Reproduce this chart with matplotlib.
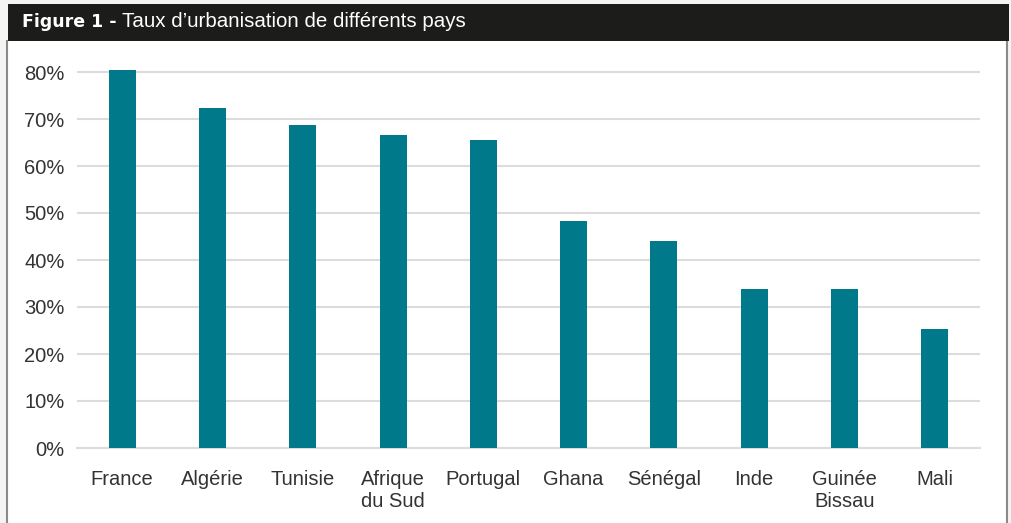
import matplotlib.pyplot as plt
from matplotlib.patches import Rectangle
from matplotlib.ticker import FuncFormatter

# Data
pays = ['France', 'Algérie', 'Tunisie', 'Afrique\ndu Sud', 'Portugal',
        'Ghana', 'Sénégal', 'Inde', 'Guinée\nBissau', 'Mali']
taux = [80.4, 72.3, 68.7, 66.6, 65.5, 48.3, 44.0, 33.8, 33.8, 25.3]
yticks = [0, 10, 20, 30, 40, 50, 60, 70, 80]

plt.rcParams['font.family'] = ['Liberation Sans', 'DejaVu Sans']

W, H = 1012, 523
fig = plt.figure(figsize=(W / 100, H / 100), dpi=100)
fig.patch.set_facecolor('#f4f4f2')

# White panel with grey side borders
fig.patches.append(Rectangle((8 / W, 0), 999 / W, 1 - 41 / H, transform=fig.transFigure,
                             facecolor='white', edgecolor='none', zorder=-5))
fig.add_artist(plt.Line2D([7.5 / W, 7.5 / W], [0, 1 - 41 / H], transform=fig.transFigure,
                          color='#8a8a8a', lw=1.5, zorder=-4))
fig.add_artist(plt.Line2D([1007.5 / W, 1007.5 / W], [0, 1 - 41 / H], transform=fig.transFigure,
                          color='#8a8a8a', lw=1.5, zorder=-4))

# Black header, bold part and regular part on a common baseline
fig.patches.append(Rectangle((8 / W, 1 - 41 / H), 1001 / W, 37 / H, transform=fig.transFigure,
                             facecolor='#1c1c1a', edgecolor='none', zorder=-4))
base = 1 - 27 / H
t1 = fig.text(22 / W, base, 'Figure 1 -', color='white', fontsize=12.5,
              fontweight='heavy', family=['DejaVu Sans'], va='baseline', ha='left')
fig.canvas.draw()
bb = t1.get_window_extent()
fig.text((bb.x1 + 5) / W, base, 'Taux d\u2019urbanisation de différents pays',
         color='white', fontsize=14.8, va='baseline', ha='left')

# Axes (10% = 47 px, 0% at y=448 px)
ytop = 81
ax = fig.add_axes([77 / W, (H - 448) / H, (980 - 77) / W, ytop * 4.7 / H])
ax.set_facecolor('none')
ax.set_zorder(2)
x = range(len(pays))
ax.bar(x, taux, width=0.3, color='#007a8a', zorder=3)

ax.set_xlim(-0.5, len(pays) - 0.5)
ax.set_ylim(0, ytop)
ax.set_yticks(yticks)
ax.yaxis.set_major_formatter(FuncFormatter(lambda v, p: f'{v:.0f}%'))
ax.grid(axis='y', color='#dcdcdc', lw=1.5, zorder=0)
ax.set_axisbelow(True)
for s in ['top', 'right', 'left']:
    ax.spines[s].set_visible(False)
ax.spines['bottom'].set_color('#dcdcdc')
ax.spines['bottom'].set_linewidth(1.5)

ax.set_xticks(list(x))
ax.set_xticklabels(pays, fontsize=14.5, color='#333333',
                   linespacing=1.2, va='top')
ax.tick_params(axis='x', length=0, pad=16)
ax.tick_params(axis='y', length=0, pad=9, labelsize=14.5, labelcolor='#333333')

fig.savefig('out.png', dpi=100, facecolor=fig.get_facecolor())
